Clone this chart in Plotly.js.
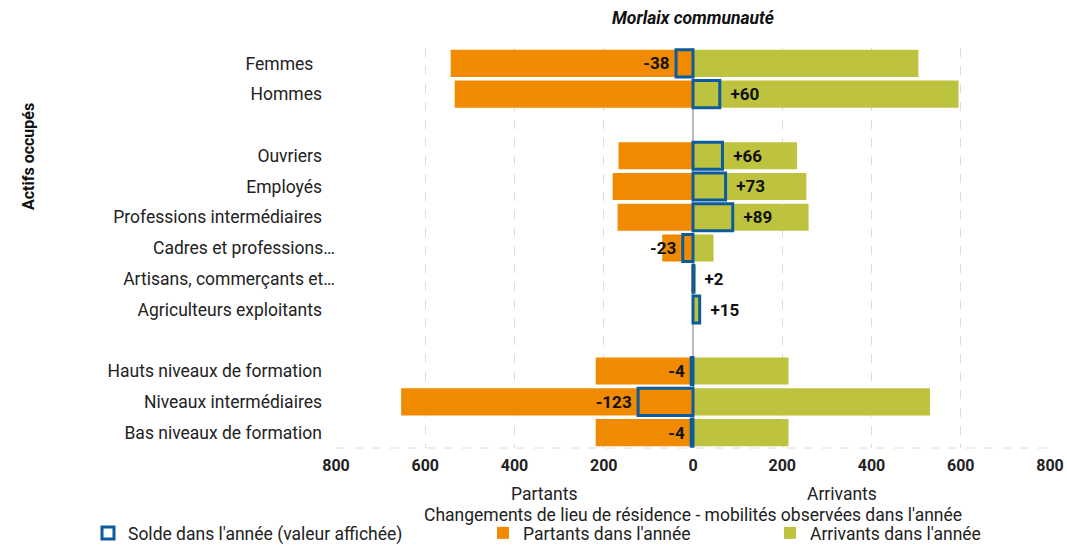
<!DOCTYPE html>
<html>
<head>
<meta charset="utf-8">
<script src="https://cdn.plot.ly/plotly-3.0.1.min.js"></script>
<style>
html,body{margin:0;padding:0;background:#fff;}
#chart{width:1067px;height:546px;}
</style>
</head>
<body>
<div id="chart"></div>
<script>
// ---- data ----
const categories = ['Femmes','Hommes','Ouvriers','Employés','Professions intermédiaires','Cadres et professions…','Artisans, commerçants et…','Agriculteurs exploitants','Hauts niveaux de formation','Niveaux intermédiaires','Bas niveaux de formation'];
const partants  = [543, 534, 167, 180, 169, 69, 4, 1, 218, 654, 218];
const arrivants = [505, 595, 233, 254, 259, 46, 6, 16, 214, 531, 214];
const solde     = [-38, 60, 66, 73, 89, -23, 2, 15, -4, -123, -4];
const groupSex   = ['Femmes','Hommes'];
const groupCsp   = ['Ouvriers','Employés','Professions intermédiaires','Cadres et professions…','Artisans, commerçants et…','Agriculteurs exploitants'];
const groupDipl  = ['Hauts niveaux de formation','Niveaux intermédiaires','Bas niveaux de formation'];
const tickVals = [-800,-600,-400,-200,0,200,400,600,800];
const tickLabels = ['800','600','400','200','0','200','400','600','800'];
const titleText = 'Morlaix communauté';
const groupTitle = 'Actifs occupés';
const xTitle = 'Changements de lieu de résidence - mobilités observées dans l\'année';
const sideLeft = 'Partants', sideRight = 'Arrivants';
const seriesNames = ["Solde dans l'année (valeur affichée)", "Partants dans l'année", "Arrivants dans l'année"];

// ---- build ----
const GAP1 = '\u2063', GAP2 = '\u2063\u2063';
const slots = [...groupSex, GAP1, ...groupCsp, GAP2, ...groupDipl];
const idx = c => categories.indexOf(c);
const pick = (arr, f) => slots.map(s => idx(s) < 0 ? null : f(arr[idx(s)]));
const pad = {'Femmes':5};
const padded = slots.map(s => {
  if (idx(s) < 0) return '';
  if (s.endsWith('…')) return s;
  const n = pad[s] !== undefined ? pad[s] : 3;
  return s + '\u00a0'.repeat(n);
});
const SP = '\u00a0\u2009';
const soldeLabel = v => v > 0 ? SP + '+' + v : v + '\u2009';

const ORANGE = '#f08a00', GREEN = '#bdc23f', BLUE = '#0d5b9c';
const font = 'Roboto, "Noto Sans", Arial, sans-serif';
const FS = 17.5;

const traces = [
  {type:'bar', orientation:'h', name:seriesNames[1], y:slots, x:pick(partants, v => -v),
   marker:{color:ORANGE, line:{width:0}}, width:0.88, legend:'legend2', hoverinfo:'skip'},
  {type:'bar', orientation:'h', name:seriesNames[2], y:slots, x:pick(arrivants, v => v),
   marker:{color:GREEN, line:{width:0}}, width:0.88, legend:'legend3', hoverinfo:'skip'},
  {type:'bar', orientation:'h', name:seriesNames[0], y:slots, x:pick(solde, v => v),
   text:pick(solde, soldeLabel), textposition:'outside', cliponaxis:false,
   textfont:{family:font, size:17, color:'#111', weight:'bold'},
   marker:{color:'rgba(0,0,0,0)', line:{color:BLUE, width:3}}, width:0.88, legend:'legend', hoverinfo:'skip'}
];

const plotL = 336, plotR = 1050, plotT = 48, plotB = 448, H = 546, W = 1067;
const ph = plotB - plotT;
const py = yy => (plotB - yy) / ph;
const pw = plotR - plotL;
const px = xx => (xx - plotL) / pw;

const legendBase = {orientation:'h', yanchor:'middle', xanchor:'left', bgcolor:'rgba(0,0,0,0)',
  font:{family:font, size:FS, color:'#222'}, itemwidth:30, tracegroupgap:0, borderwidth:0};

const layout = {
  width:W, height:H,
  margin:{l:plotL, r:W-plotR, t:plotT, b:H-plotB, pad:0, autoexpand:false},
  paper_bgcolor:'#fff', plot_bgcolor:'#fff',
  barmode:'overlay',
  font:{family:font, size:FS, color:'#222'},
  title:{text:'<b><i>'+titleText+'</i></b>', x:0.5, xref:'paper', xanchor:'center',
         y:1-18/H, yref:'container', yanchor:'middle', font:{family:font, size:17.5, color:'#111'}},
  xaxis:{range:[-800,800], tickmode:'array', tickvals:tickVals, ticktext:tickLabels,
         tickfont:{family:font, size:16, color:'#222', weight:'bold'},
         showgrid:true, gridcolor:'#dcdcdc', griddash:'dash', gridwidth:1,
         zeroline:true, zerolinecolor:'#bbbbbb', zerolinewidth:2,
         showline:false, ticks:'', ticklabelstandoff:6, fixedrange:true, automargin:false},
  yaxis:{type:'category', categoryorder:'array', categoryarray:slots,
         range:[slots.length-0.5, -0.5], tickmode:'array', tickvals:slots, ticktext:padded,
         tickfont:{family:font, size:FS, color:'#222'}, showgrid:false, zeroline:false,
         showline:false, ticks:'', fixedrange:true, automargin:false},
  showlegend:true,
  legend: Object.assign({}, legendBase, {x:px(88), y:py(533)}),
  legend2: Object.assign({}, legendBase, {x:px(483), y:py(533)}),
  legend3: Object.assign({}, legendBase, {x:px(770), y:py(533)}),
  shapes:[
    {type:'line', xref:'paper', yref:'paper', x0:0, x1:1, y0:0, y1:0,
     line:{color:'#dcdcdc', width:1, dash:'dash'}, layer:'below'}
  ],
  annotations:[
    {text:sideLeft, xref:'x', yref:'paper', x:-332, y:py(494), showarrow:false,
     xanchor:'center', yanchor:'middle', font:{family:font, size:FS, color:'#222'}},
    {text:sideRight, xref:'x', yref:'paper', x:335, y:py(494), showarrow:false,
     xanchor:'center', yanchor:'middle', font:{family:font, size:FS, color:'#222'}},
    {text:xTitle, xref:'paper', yref:'paper', x:0.5, y:py(515), showarrow:false,
     xanchor:'center', yanchor:'middle', font:{family:font, size:FS, color:'#222'}},
    {text:'<b>'+groupTitle+'</b>', xref:'paper', yref:'paper', x:px(28), y:py(157), showarrow:false,
     textangle:-90, xanchor:'center', yanchor:'middle', font:{family:font, size:16, color:'#111'}}
  ],
  hovermode:false
};

Plotly.newPlot('chart', traces, layout, {displayModeBar:false, staticPlot:true});
</script>
</body>
</html>
